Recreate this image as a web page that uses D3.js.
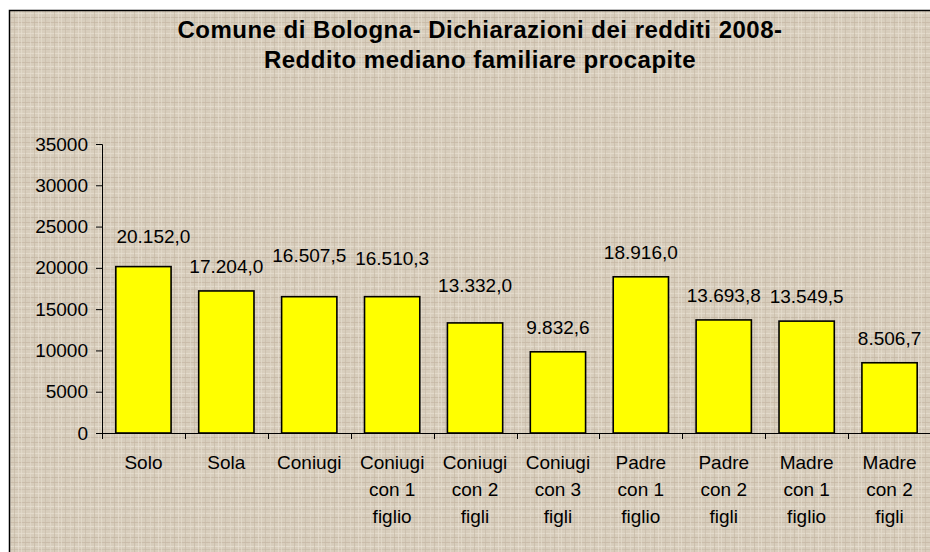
<!DOCTYPE html>
<html>
<head>
<meta charset="utf-8">
<script src="https://cdn.jsdelivr.net/npm/d3@7"></script>
<style>
  html, body { margin: 0; padding: 0; background: #ffffff; }
  svg { display: block; }
  text { font-family: "Liberation Sans", Arial, sans-serif; fill: #000; }
</style>
</head>
<body>
<svg id="chart" width="930" height="552"></svg>
<script>
// ---- data ----
const titleLines = ["Comune di Bologna- Dichiarazioni dei redditi 2008-", "Reddito mediano familiare procapite"];
const categories = ["Solo", "Sola", "Coniugi", "Coniugi con 1 figlio", "Coniugi con 2 figli",
                    "Coniugi con 3 figli", "Padre con 1 figlio", "Padre con 2 figli",
                    "Madre con 1 figlio", "Madre con 2 figli"];
const values = [20152.0, 17204.0, 16507.5, 16510.3, 13332.0, 9832.6, 18916.0, 13693.8, 13549.5, 8506.7];
const yTicks = [0, 5000, 10000, 15000, 20000, 25000, 30000, 35000];
// manual label lift (px above default position), as in the original
const labelLift = [6, 0, 17, 14, 13, 0, 0, 0, 0, 0];

// ---- layout ----
const svg = d3.select("#chart");
const W = 930, H = 552;
const plot = { left: 102, right: 931, top: 144, bottom: 433 };

// background texture (burlap-like)
const defs = svg.append("defs");
const T = 20;
const pat = defs.append("pattern").attr("id", "burlap")
  .attr("patternUnits", "userSpaceOnUse").attr("width", T).attr("height", T);
pat.append("rect").attr("width", T).attr("height", T).attr("fill", "#dad0bf");
const hLines = [[2, "#c6b8a5"], [6, "#ebe4d6"], [9, "#cbbead"], [13, "#e8e1d2"], [17, "#c3b5a2"]];
const vLines = [[1, "#e9e2d4"], [5, "#c8bba8"], [10, "#e6ded0"], [14, "#c5b7a4"], [18, "#ece5d8"]];
hLines.forEach(([p, c]) => pat.append("rect").attr("x", 0).attr("y", p).attr("width", T).attr("height", 1).attr("fill", c).attr("opacity", 0.75));
vLines.forEach(([p, c]) => pat.append("rect").attr("x", p).attr("y", 0).attr("width", 1).attr("height", T).attr("fill", c).attr("opacity", 0.6));

const filt = defs.append("filter").attr("id", "grain").attr("x", 0).attr("y", 0).attr("width", 1).attr("height", 1);
filt.append("feTurbulence").attr("type", "fractalNoise").attr("baseFrequency", "0.9 0.35").attr("numOctaves", 2).attr("seed", 3);
filt.append("feColorMatrix").attr("values", "0 0 0 0 0.45  0 0 0 0 0.38  0 0 0 0 0.30  0 0 0 0.5 -0.1");
filt.append("feComposite").attr("in2", "SourceGraphic").attr("operator", "in");

svg.append("rect").attr("x", 0).attr("y", 0).attr("width", W).attr("height", H).attr("fill", "#ffffff");
svg.append("rect").attr("x", 9.5).attr("y", 10.5).attr("width", W + 10).attr("height", H + 10)
  .attr("fill", "url(#burlap)");
svg.append("rect").attr("x", 10).attr("y", 11).attr("width", W).attr("height", H)
  .attr("fill", "#000").attr("filter", "url(#grain)").attr("opacity", 0.35);
svg.append("rect").attr("x", 9.5).attr("y", 10.5).attr("width", W + 10).attr("height", H + 10)
  .attr("fill", "none").attr("stroke", "#000").attr("stroke-width", 1.5);

// title
svg.append("g").selectAll("text").data(titleLines).join("text")
  .attr("x", 480).attr("y", (d, i) => 38 + i * 30)
  .attr("text-anchor", "middle")
  .style("font-weight", "bold").style("font-size", "24px").style("letter-spacing", "0.5px")
  .text(d => d);

// scales
const x = d3.scaleBand().domain(categories).range([plot.left, plot.right])
  .paddingInner(1 / 3).paddingOuter(1 / 6);
const y = d3.scaleLinear().domain([0, 35000]).range([plot.bottom, plot.top]);

// y axis
const yAxis = svg.append("g").attr("transform", `translate(${plot.left},0)`)
  .call(d3.axisLeft(y).tickValues(yTicks).tickFormat(d3.format("d")).tickSize(6).tickPadding(8));
yAxis.select(".domain").attr("stroke", "#000").attr("stroke-width", 1);
yAxis.selectAll(".tick line").attr("stroke", "#000");
yAxis.selectAll(".tick text").style("font-size", "19px").style("font-family", "Liberation Sans, Arial, sans-serif").attr("fill", "#000");

// bars
svg.append("g").selectAll("rect").data(values).join("rect")
  .attr("x", (d, i) => x(categories[i]))
  .attr("y", d => y(d))
  .attr("width", x.bandwidth())
  .attr("height", d => y(0) - y(d))
  .attr("fill", "#ffff00").attr("stroke", "#000").attr("stroke-width", 1.6);

// x axis (ticks at category boundaries)
const xg = svg.append("g");
xg.append("line").attr("x1", plot.left).attr("x2", plot.right)
  .attr("y1", y(0) + 0.5).attr("y2", y(0) + 0.5).attr("stroke", "#000");
const step = x.step();
const boundaries = d3.range(categories.length + 1).map(i => x(categories[0]) - x.paddingInner() * step / 2 + i * step);
xg.selectAll("line.t").data(boundaries).join("line").attr("class", "t")
  .attr("x1", d => Math.round(d) + 0.5).attr("x2", d => Math.round(d) + 0.5)
  .attr("y1", y(0)).attr("y2", y(0) + 6).attr("stroke", "#000");

// category labels
function splitLabel(s) {
  const m = s.match(/^(\S+) (con \d+) (\S+)$/);
  return m ? [m[1], m[2], m[3]] : [s];
}
const cl = svg.append("g").selectAll("text").data(categories).join("text")
  .attr("x", d => x(d) + x.bandwidth() / 2)
  .attr("text-anchor", "middle")
  .style("font-size", "19px");
cl.selectAll("tspan").data(d => splitLabel(d)).join("tspan")
  .attr("x", function () { return d3.select(this.parentNode).attr("x"); })
  .attr("y", (d, i) => 469 + i * 27)
  .text(d => d);

// value labels
const fmt = d3.formatLocale({ decimal: ",", thousands: ".", grouping: [3], currency: ["", "€"] }).format(",.1f");
svg.append("g").selectAll("text").data(values).join("text")
  .attr("x", (d, i) => {
    const cx = x(categories[i]) + x.bandwidth() / 2;
    return i === 0 ? cx + 10 : cx;
  })
  .attr("y", (d, i) => y(d) - 18 - labelLift[i])
  .attr("text-anchor", "middle")
  .style("font-size", "19px")
  .text(d => fmt(d));
</script>
</body>
</html>
